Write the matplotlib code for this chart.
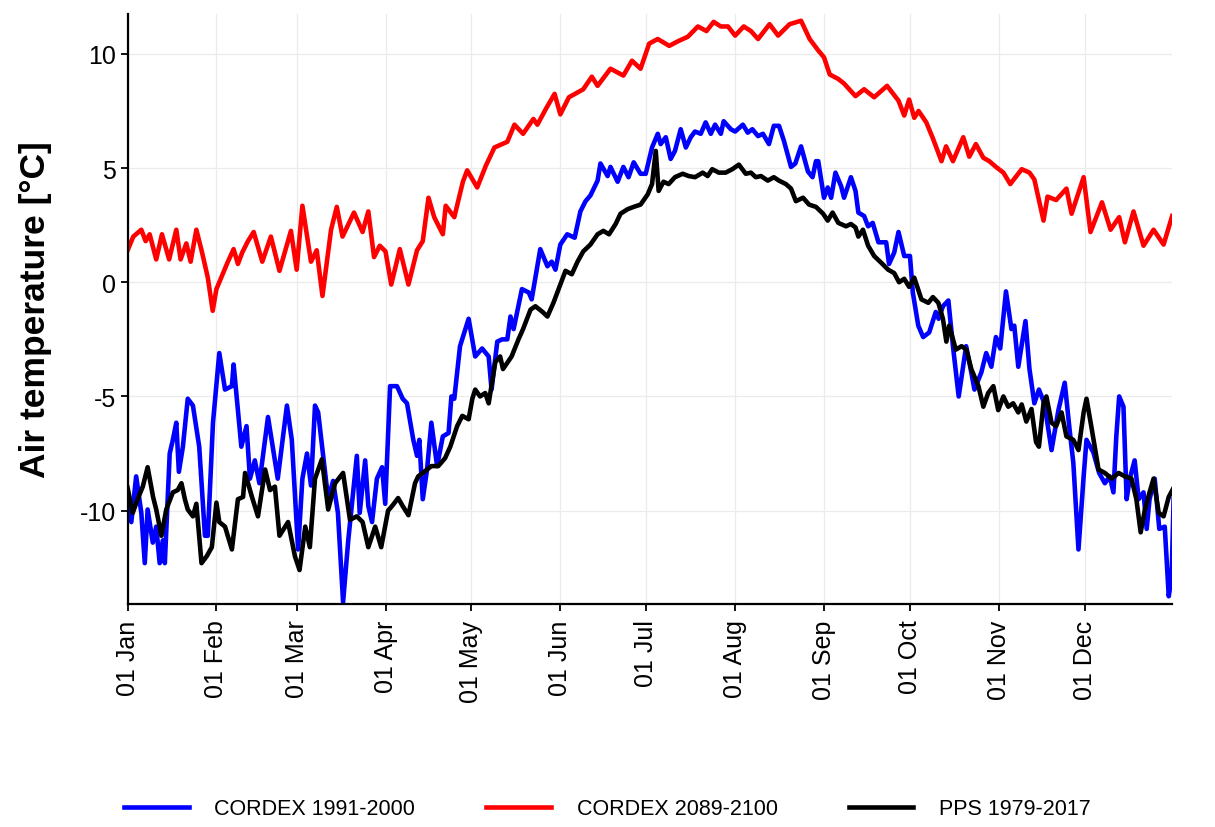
import matplotlib
matplotlib.use("Agg")
import matplotlib.pyplot as plt
import matplotlib.dates as mdates
import pandas as pd

plt.rcParams['font.family'] = ['Liberation Sans', 'DejaVu Sans']

# daily mean air temperature, day of year -> degC
cordex_hist_days = [0, 1.3, 3, 4.8, 6, 7, 8.8, 10, 11.2, 12.3, 13, 14.7, 15.8, 17, 17.9, 19.3, 21, 22.8, 25, 27, 28,
                    29.8, 32, 34, 36.4, 37, 39.7, 41.5, 42.7, 44.4, 46, 49, 52.4, 55.6, 57.3, 59.5, 61, 62.6, 64,
                    65.4, 66.5, 70, 71.7, 73.4, 75.2, 77, 80, 81, 82.9, 84, 85.3, 87, 88.8, 89.9, 91.6, 94, 96,
                    97.5, 99.7, 101, 101.8, 103, 104.5, 106, 108, 110, 112, 113, 114, 116, 119, 121.3, 123.7, 126,
                    127, 129, 130.7, 132.5, 133.6, 134.7, 137.6, 140, 141, 144, 146.5, 148, 149.3, 151, 153.4, 156,
                    158, 159.8, 161.5, 164, 165, 167.5, 168.5, 171, 173, 174.8, 176.6, 179, 180.8, 183, 185, 186,
                    187.8, 189.5, 191, 193, 194.8, 196.5, 198, 200, 201.7, 203.5, 205, 207, 208, 210.5, 212, 214.7,
                    216.4, 218, 220, 221.7, 223.8, 225.5, 227.3, 229, 231.5, 233, 235, 237.4, 239, 240.2, 241, 243,
                    244.3, 245.5, 247, 249, 250, 252.4, 254, 255, 257, 258.4, 260, 262, 264.7, 265.7, 267.5, 269,
                    271, 273, 274, 275.9, 277.6, 279.7, 282, 283, 284.5, 286.4, 288, 290, 292.6, 294.4, 295.5,
                    297.9, 299.6, 301.4, 303, 304.5, 306.5, 308.4, 309.4, 310.8, 313.3, 314.7, 316.4, 318, 319.9,
                    322.4, 324.8, 327, 328.7, 330, 331.8, 333.6, 334.6, 337, 339, 341, 342.7, 344, 345, 346, 347.5,
                    348.6, 349.7, 351.4, 352.8, 354.5, 355.6, 356.6, 358.4, 360, 361.9, 363.3, 364.3, 365]
cordex_hist = [-9.3, -10.5, -8.5, -10.1, -12.3, -9.95, -11.4, -10.7, -12.3, -11.3, -12.3, -7.5, -6.9, -6.15, -8.3,
               -7.2, -5.1, -5.4, -7.2, -11.1, -11.1, -6.15, -3.1, -4.7, -4.55, -3.6, -7.2, -6.3, -8.6, -7.8, -8.8,
               -5.9, -8.6, -5.4, -6.9, -11.7, -8.6, -7.5, -8.9, -5.4, -5.7, -9.5, -8.7, -10.1, -14.0, -11.3, -7.6,
               -10.1, -7.8, -9.8, -10.5, -8.6, -8.1, -9.7, -4.55, -4.55, -5.1, -5.3, -6.9, -7.6, -6.9, -9.5, -8.2,
               -6.15, -8.05, -6.75, -6.6, -5.0, -5.1, -2.8, -1.6, -3.25, -2.9, -3.25, -4.7, -2.6, -2.5, -2.5, -1.5,
               -2.05, -0.3, -0.45, -0.75, 1.45, 0.7, 0.9, 0.55, 1.65, 2.1, 1.95, 3.1, 3.55, 3.8, 4.45, 5.2, 4.65,
               5.05, 4.4, 5.05, 4.6, 5.25, 4.75, 4.75, 5.9, 6.5, 6.05, 6.35, 5.4, 5.75, 6.7, 5.9, 6.35, 6.6, 6.5,
               7.0, 6.5, 6.9, 6.5, 7.05, 6.7, 6.6, 6.9, 6.55, 6.7, 6.4, 6.5, 6.05, 6.85, 6.85, 6.2, 5.05, 5.2,
               5.95, 4.85, 4.6, 5.3, 5.3, 3.7, 4.15, 3.7, 4.8, 4.2, 3.7, 4.6, 4.0, 3.05, 2.9, 2.45, 2.6, 1.75,
               1.75, 0.8, 1.3, 2.2, 1.15, 1.15, -0.45, -1.9, -2.4, -2.2, -1.3, -1.6, -1.05, -0.8, -2.8, -5.0,
               -2.8, -3.95, -4.7, -3.95, -3.1, -3.7, -2.4, -2.9, -0.4, -2.05, -1.9, -3.7, -1.7, -3.8, -5.3, -4.7,
               -5.3, -7.35, -5.6, -4.4, -6.45, -7.9, -11.7, -8.5, -6.9, -7.45, -8.35, -8.8, -8.5, -9.2, -6.75,
               -5.0, -5.45, -9.5, -8.6, -7.8, -9.5, -9.2, -10.8, -9.5, -8.6, -10.8, -10.7, -13.75, -12.9, -9.5]

cordex_future_days = [0, 2, 4.8, 6.3, 7.7, 10, 12, 14.5, 17, 18.5, 20.5, 22, 24, 26, 28, 29.7, 31, 33, 35, 37, 38.5,
                      40, 42, 44, 47, 50, 53, 57, 59, 61, 64, 66, 68, 71, 73, 75, 79, 82, 84, 86, 88, 90, 92, 95,
                      98, 101, 103, 105, 107, 110, 111, 114, 117, 118.5, 122, 125, 128, 132.5, 135, 138, 141.6,
                      143, 146, 149, 151, 154, 159, 162, 164, 168.5, 173, 176, 179, 182, 185, 189, 192, 195.5, 199,
                      202, 204.5, 207, 209.5, 212, 215, 217.5, 220, 224, 227, 231, 235, 238, 241, 243, 245, 248,
                      250, 254, 257, 260.5, 265, 269, 271, 272.7, 274.5, 276, 278.7, 281, 284, 285.6, 288, 291.6,
                      293.7, 296, 298.6, 300.7, 303, 305.6, 308, 312, 314.7, 316.4, 319.6, 321, 324, 327.6, 329.4,
                      333.6, 336, 340, 343, 346, 348, 351, 354.5, 358, 361.5, 364.5]
cordex_future = [1.4, 2.0, 2.3, 1.8, 2.1, 1.0, 2.1, 1.0, 2.3, 1.0, 1.7, 0.9, 2.3, 1.3, 0.2, -1.25, -0.3, 0.3, 0.9,
                 1.45, 0.8, 1.3, 1.8, 2.2, 0.9, 2.0, 0.5, 2.25, 0.55, 3.35, 0.9, 1.4, -0.6, 2.3, 3.3, 2.0, 3.05,
                 2.2, 3.1, 1.1, 1.6, 1.35, -0.1, 1.45, -0.1, 1.4, 1.8, 3.7, 2.85, 2.1, 3.35, 2.85, 4.4, 4.9, 4.15,
                 5.1, 5.9, 6.15, 6.9, 6.5, 7.15, 6.9, 7.6, 8.25, 7.35, 8.1, 8.45, 9.0, 8.6, 9.35, 9.05, 9.7, 9.35,
                 10.45, 10.65, 10.35, 10.55, 10.75, 11.2, 11.0, 11.4, 11.2, 11.2, 10.8, 11.2, 11.0, 10.65, 11.3,
                 10.8, 11.3, 11.45, 10.65, 10.15, 9.85, 9.1, 8.9, 8.7, 8.15, 8.45, 8.1, 8.6, 7.95, 7.3, 8.0, 7.2,
                 7.5, 7.0, 6.3, 5.3, 5.95, 5.3, 6.35, 5.5, 6.05, 5.45, 5.3, 5.05, 4.8, 4.3, 4.95, 4.8, 4.5, 2.7,
                 3.75, 3.6, 4.1, 3.0, 4.6, 2.2, 3.5, 2.3, 2.85, 1.75, 3.1, 1.6, 2.3, 1.65, 2.9]

pps_days = [0, 1.8, 3.5, 5.3, 7, 8.9, 10, 11.8, 13.5, 15.8, 17.5, 18.8, 20, 21, 22.8, 24, 25.8, 27.6, 29.4, 31, 32,
            34, 36.4, 38.5, 40.3, 41, 43.4, 45.5, 48, 49.7, 51.4, 53, 56, 58.4, 60, 62, 63.6, 65.4, 67.8, 70, 72.4,
            75.2, 77.6, 80, 82, 84, 86.4, 88.5, 90.9, 92.6, 94.4, 96, 98, 100.3, 101.4, 103, 106, 108.4, 110.8,
            112.6, 115, 116.8, 119, 120.3, 121.3, 123, 124.8, 126, 128.3, 130, 131, 134, 136.4, 138, 140.6, 142.3,
            144.8, 146.5, 148.6, 151, 152.8, 155, 157, 159, 161.5, 164, 166, 168, 170.3, 172, 174.5, 176.6, 179,
            181.5, 183, 184.3, 185.3, 187, 188.8, 191, 193.7, 195.8, 198, 200.7, 202.4, 204, 206.3, 208.7, 211,
            213.3, 215.7, 217.5, 219.2, 221, 223.4, 225.5, 227.3, 229.7, 231.5, 233.2, 235.7, 237.8, 240.2, 242.7,
            244.3, 246, 248, 250.7, 252.4, 254, 255, 256.6, 258.4, 260.5, 263, 265.4, 267.5, 269.2, 271, 272.7,
            274.5, 277, 279.4, 281, 282.9, 284.5, 285.7, 286.7, 289, 291, 292.7, 294.4, 296.9, 298.6, 300.3, 302.1,
            303.8, 305.6, 307.3, 309, 310.8, 312, 313.6, 315.4, 317, 318, 319.6, 320.6, 322.4, 324, 325.9, 327.6,
            330, 331.8, 333.6, 334.6, 336.4, 338.8, 341, 343.4, 345.8, 348, 350.3, 352, 353.5, 355, 356.6, 358,
            359.8, 361.5, 363.3, 365]
pps = [-9.0, -10.1, -9.5, -8.95, -8.1, -9.4, -9.95, -11.1, -9.95, -9.2, -9.1, -8.8, -9.5, -9.95, -10.25, -9.7,
       -12.3, -12.0, -11.6, -9.65, -10.5, -10.7, -11.7, -9.5, -9.4, -8.35, -9.4, -10.25, -8.2, -9.1, -8.95, -11.1,
       -10.5, -12.0, -12.6, -10.7, -11.6, -8.6, -7.75, -9.95, -8.8, -8.35, -10.4, -10.25, -10.5, -11.6, -10.7,
       -11.6, -10.0, -9.75, -9.45, -9.8, -10.2, -8.8, -8.5, -8.35, -8.05, -8.05, -7.7, -7.2, -6.3, -5.85, -6.0,
       -5.1, -4.7, -5.0, -4.85, -5.3, -3.5, -3.25, -3.8, -3.25, -2.5, -2.05, -1.2, -1.05, -1.3, -1.5, -0.9, -0.1,
       0.5, 0.35, 0.9, 1.35, 1.65, 2.1, 2.25, 2.1, 2.55, 3.0, 3.2, 3.3, 3.4, 3.85, 4.3, 5.75, 4.0, 4.4, 4.3, 4.6,
       4.75, 4.65, 4.6, 4.8, 4.65, 4.95, 4.8, 4.8, 4.95, 5.15, 4.75, 4.8, 4.6, 4.65, 4.45, 4.6, 4.45, 4.3, 4.1,
       3.55, 3.7, 3.4, 3.3, 3.0, 2.7, 3.05, 2.6, 2.45, 2.55, 2.4, 2.0, 2.3, 1.6, 1.15, 0.85, 0.55, 0.4, 0.0, 0.15,
       -0.2, 0.2, -0.75, -0.9, -0.65, -0.9, -1.6, -2.6, -1.9, -2.95, -2.8, -2.95, -3.8, -4.55, -5.45, -4.85,
       -4.55, -5.6, -5.0, -5.45, -5.3, -5.7, -5.35, -6.1, -5.55, -7.0, -7.2, -5.3, -5.0, -6.15, -6.3, -5.7,
       -6.75, -6.9, -7.35, -5.7, -5.1, -6.4, -8.2, -8.35, -8.6, -8.35, -8.5, -8.6, -9.5, -10.95, -9.95, -9.2,
       -8.6, -10.1, -10.25, -9.4, -9.0]

series_labels = ['CORDEX 1991-2000', 'CORDEX 2089-2100', 'PPS 1979-2017']
series_colors = ['#0000FF', '#FF0000', '#000000']

start = pd.Timestamp('2001-01-01')


def to_dates(days):
    return start + pd.to_timedelta(days, unit='D')


fig = plt.figure(figsize=(12.15, 8.28), dpi=100)
ax = fig.add_axes([0.105, 0.269, 0.86, 0.713])

for days, vals, lab, col in zip([cordex_hist_days, cordex_future_days, pps_days],
                                [cordex_hist, cordex_future, pps],
                                series_labels, series_colors):
    ax.plot(to_dates(days), vals, color=col, lw=3.3, label=lab, solid_joinstyle='round')

# x axis stops at 31 Dec so no tick for the next year
ax.set_xlim(start, start + pd.Timedelta(days=364.6))
ax.set_ylim(-14.1, 11.75)
ax.set_yticks([-10, -5, 0, 5, 10])
ax.set_yticklabels(['-10', '-5', '0', '5', '10'])
ax.xaxis.set_major_locator(mdates.MonthLocator())
ax.xaxis.set_major_formatter(mdates.DateFormatter('%d %b'))

ax.grid(True, color='#EBEBEB', lw=0.9)
ax.set_axisbelow(True)
for side in ['top', 'right']:
    ax.spines[side].set_visible(False)
for side in ['left', 'bottom']:
    ax.spines[side].set_linewidth(1.6)
ax.tick_params(axis='both', labelsize=18, length=5, width=1.3, colors='black')
ax.tick_params(axis='x', rotation=90, pad=6)
ax.set_ylabel('Air temperature [°C]', fontsize=25.5, fontweight='bold', labelpad=20)

handles, labels = ax.get_legend_handles_labels()
fig.legend(handles, labels, loc='lower center', bbox_to_anchor=(0.5, -0.014), ncol=3, frameon=False,
           fontsize=15.5, handlelength=3.0, handletextpad=1.2, columnspacing=3.3)

fig.savefig('out.png', dpi=100)
